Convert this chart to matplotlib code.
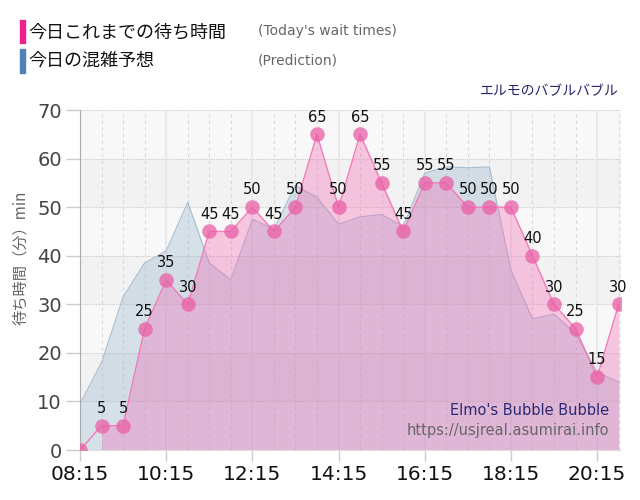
import matplotlib.pyplot as plt
import matplotlib.patches as patches

plt.rcParams['font.family'] = ['DejaVu Sans', 'Noto Sans CJK JP']

# 30-minute slots, 08:15 to 20:45
times = ['08:15', '08:45', '09:15', '09:45', '10:15', '10:45', '11:15', '11:45',
         '12:15', '12:45', '13:15', '13:45', '14:15', '14:45', '15:15', '15:45',
         '16:15', '16:45', '17:15', '17:45', '18:15', '18:45', '19:15', '19:45',
         '20:15', '20:45']
wait_today = [0, 5, 5, 25, 35, 30, 45, 45, 50, 45, 50, 65, 50, 65, 55, 45,
              55, 55, 50, 50, 50, 40, 30, 25, 15, 30]
prediction = [9.5, 18, 31.5, 38.5, 41, 51, 38.5, 35, 47.5, 45.5, 54.5, 52, 46.5, 48, 48.5, 46,
              57, 58.3, 58.1, 58.3, 37, 27, 28, 24, 16, 14]
tick_labels = ['08:15', '10:15', '12:15', '14:15', '16:15', '18:15', '20:15']


def to_hours(t):
    h, m = t.split(':')
    return int(h) + int(m) / 60


x = [to_hours(t) for t in times]
xticks = [to_hours(t) for t in tick_labels]

fig = plt.figure(figsize=(6.4, 5.0), dpi=100)
ax = fig.add_axes([0.125, 0.1, 0.845, 0.68])

# alternating background bands
for i, lo in enumerate(range(0, 70, 10)):
    ax.axhspan(lo, lo + 10, color='#f8f8f8' if i % 2 == 0 else '#f2f2f2', zorder=0, lw=0)

for v in range(10, 71, 10):
    ax.axhline(v, color='#cccccc', lw=0.8, ls=(0, (1, 1)), zorder=0.5)
for xv in x:
    if xv in xticks:
        ax.axvline(xv, color='#e6e6e6', lw=1.2, zorder=0.5)
    else:
        ax.axvline(xv, color='#d8d8d8', lw=0.8, ls=(0, (3, 3)), zorder=0.5)

# prediction area
ax.fill_between(x, prediction, 0, color='#87abc9', alpha=0.3, lw=0, zorder=1)
ax.plot(x, prediction, color='#a6bcd1', lw=0.8, zorder=1.5)

# today's waits
ax.fill_between(x, wait_today, 0, where=[i >= 1 for i in range(len(x))],
                color='#f569b3', alpha=0.35, lw=0, zorder=2)
ax.plot(x, wait_today, color='#f27bb8', lw=1.0, zorder=3)
ax.plot(x, wait_today, 'o', color='#ea5fa6', alpha=0.75, ms=10.5, mec='none', zorder=4)

for xi, v in zip(x, wait_today):
    if v == 0:
        continue
    ax.annotate(str(v), (xi, v), xytext=(0, 7), textcoords='offset points',
                ha='center', va='bottom', fontsize=10.5, color='#111111', zorder=5)

ax.set_xlim(x[0], x[-1] + 0.05)
ax.set_ylim(0, 70)
ax.set_xticks(xticks)
ax.set_xticklabels(tick_labels, fontsize=14.5, color='#111111')
ax.set_yticks(range(0, 71, 10))
ax.tick_params(axis='y', labelsize=14, labelcolor='#444444', color='#cccccc', length=10, width=1, pad=3)
ax.tick_params(axis='x', color='#cccccc', length=8, width=1, pad=3)
for s in ['top', 'right']:
    ax.spines[s].set_visible(False)
ax.spines['left'].set_color('#aaaaaa')
ax.spines['bottom'].set_color('#dddddd')
ax.set_ylabel('待ち時間（分）min', fontsize=11, color='#666666',
              family=['Noto Sans CJK JP', 'DejaVu Sans'], labelpad=6, y=0.565)

# watermark
ax.text(0.978, 0.115, "Elmo's Bubble Bubble", transform=ax.transAxes, ha='right', va='center',
        fontsize=10.5, color='#2a2a72', zorder=6)
ax.text(0.978, 0.058, 'https://usjreal.asumirai.info', transform=ax.transAxes, ha='right', va='center',
        fontsize=10.5, color='#666666', zorder=6)

# header legend
fig.patches.append(patches.Rectangle((20 / 640, 1 - 43 / 500), 5 / 640, 23 / 500,
                                     transform=fig.transFigure, color='#f0208a'))
fig.patches.append(patches.Rectangle((20 / 640, 1 - 73 / 500), 5 / 640, 24 / 500,
                                     transform=fig.transFigure, color='#4f82b4'))
jp = ['Noto Sans CJK JP', 'DejaVu Sans']
fig.text(28 / 640, 1 - 32 / 500, '今日これまでの待ち時間', fontsize=13, family=jp, va='center', color='#111111')
fig.text(28 / 640, 1 - 61 / 500, '今日の混雑予想', fontsize=13, family=jp, va='center', color='#111111')
fig.text(258 / 640, 1 - 31 / 500, "(Today's wait times)", fontsize=10, va='center', color='#666666')
fig.text(258 / 640, 1 - 60 / 500, '(Prediction)', fontsize=10, va='center', color='#666666')
fig.text(619 / 640, 1 - 91 / 500, 'エルモのバブルバブル', fontsize=10, family=jp, ha='right', va='center',
         color='#24246e')

plt.savefig('out.png', dpi=100)
